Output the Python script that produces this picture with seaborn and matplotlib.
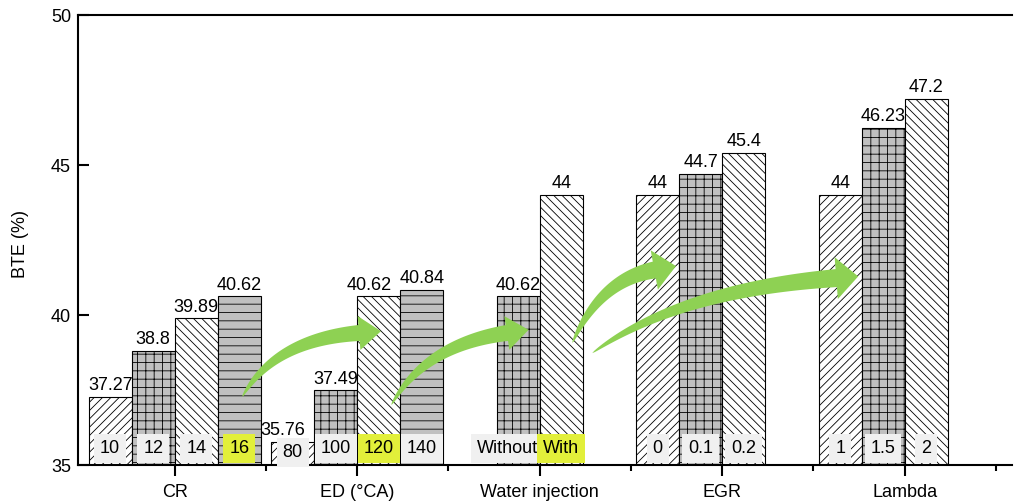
import numpy as np
import pandas as pd
import matplotlib
matplotlib.use("Agg")
import matplotlib.pyplot as plt
from matplotlib.patches import Polygon
from matplotlib.ticker import FixedLocator
import seaborn as sns

groups = ["CR", "ED (°CA)", "Water injection", "EGR", "Lambda"]

cr_vals = [37.27, 38.8, 39.89, 40.62]
cr_tags = ["10", "12", "14", "16"]
ed_vals = [35.76, 37.49, 40.62, 40.84]
ed_tags = ["80", "100", "120", "140"]
wi_vals = [40.62, 44]
wi_tags = ["Without", "With"]
egr_vals = [44, 44.7, 45.4]
egr_tags = ["0", "0.1", "0.2"]
lam_vals = [44, 46.23, 47.2]
lam_tags = ["1", "1.5", "2"]

# slot (0-3) each bar occupies inside its group
cr_slots = ["s0", "s1", "s2", "s3"]
ed_slots = ["s0", "s1", "s2", "s3"]
wi_slots = ["s1", "s2"]
egr_slots = ["s0", "s1", "s2"]
lam_slots = ["s0", "s1", "s2"]

highlighted = [("CR", "16"), ("ED (°CA)", "120"), ("Water injection", "With")]

slot_order = ["s0", "s1", "s2", "s3"]
slot_fill = {"s0": "white", "s1": "#c0c0c0", "s2": "white", "s3": "#c0c0c0"}
slot_hatch = {"s0": "////", "s1": "++", "s2": "\\\\\\\\", "s3": "--"}

rows = []
for g, vals, tags, slots in zip(
        groups,
        [cr_vals, ed_vals, wi_vals, egr_vals, lam_vals],
        [cr_tags, ed_tags, wi_tags, egr_tags, lam_tags],
        [cr_slots, ed_slots, wi_slots, egr_slots, lam_slots]):
    for v, t, s in zip(vals, tags, slots):
        rows.append({"group": g, "bte": v, "tag": t, "slot": s})
df = pd.DataFrame(rows)

sns.set_style("ticks")
plt.rcParams["font.family"] = ["Liberation Sans", "DejaVu Sans"]
plt.rcParams["hatch.linewidth"] = 0.6
plt.rcParams["hatch.color"] = "#333333"
for key in ["text.color", "axes.labelcolor", "xtick.color", "ytick.color",
            "axes.edgecolor"]:
    plt.rcParams[key] = "black"

fig = plt.figure(figsize=(10.14, 5.03), dpi=100)
ax = fig.add_axes([78 / 1014, 1 - 465 / 503, 934 / 1014, 450 / 503])

bar_w = 0.943
sns.barplot(data=df, x="group", y="bte", hue="slot", order=groups,
            hue_order=slot_order, palette=slot_fill, dodge=True, width=bar_w,
            edgecolor="black", linewidth=0.8, errorbar=None, legend=False,
            ax=ax)

ax.set_ylim(35, 50)
ax.set_xlim(-0.53, 4.588)
ax.set_yticks([35, 40, 45, 50])

for cont, slot in zip(ax.containers, slot_order):
    for bar in cont:
        if np.isnan(bar.get_height()):
            continue
        bar.set_hatch(slot_hatch[slot])
        gi = int(round(bar.get_x() + bar.get_width() / 2))
        row = df[(df.group == groups[gi]) & (df.slot == slot)].iloc[0]
        fc = "#e2ef3a" if (row.group, row.tag) in highlighted else "#f0f0f0"
        ty = min(35.55, row.bte - 0.35)
        if row.tag == "Without":
            # too wide for its bar: right-align against the bar edge
            tx, ha = bar.get_x() + bar.get_width() - 0.01, "right"
        else:
            tx, ha = bar.get_x() + bar.get_width() / 2, "center"
        ax.text(tx, ty, row.tag, ha=ha, va="center", fontsize=13, zorder=5,
                bbox=dict(boxstyle="square,pad=0.32", fc=fc, ec="none"))
    anns = ax.bar_label(cont, fmt="%g", padding=2, fontsize=13)
    if slot in ("s0", "s2"):
        # ED labels nudged left so neighbours don't collide
        for bar, ann in zip(cont, anns):
            gi = int(round(bar.get_x() + bar.get_width() / 2))
            if groups[gi] == "ED (°CA)":
                ann.xyann = (-7, 2)

def curved_arrow(ax, tail, ctrl, end, body=16, head_w=36, head_len=22,
                 color="#8ed153"):
    # tapered quadratic-bezier arrow, built in pixel space
    P = ax.transData.transform(np.array([tail, ctrl, end]))
    t = np.linspace(0, 1, 80)[:, None]
    pts = (1 - t) ** 2 * P[0] + 2 * (1 - t) * t * P[1] + t ** 2 * P[2]
    d = 2 * (1 - t) * (P[1] - P[0]) + 2 * t * (P[2] - P[1])
    d /= np.linalg.norm(d, axis=1, keepdims=True)
    n = np.column_stack([-d[:, 1], d[:, 0]])
    w = body / 2 * t[:, 0] ** 0.6
    left = pts + n * w[:, None]
    right = pts - n * w[:, None]
    tip = P[2] + d[-1] * head_len
    hl = P[2] + n[-1] * head_w / 2
    hr = P[2] - n[-1] * head_w / 2
    poly = np.vstack([left, hl, tip, hr, right[::-1]])
    poly = ax.transData.inverted().transform(poly)
    ax.add_patch(Polygon(poly, closed=True, fc=color, ec="none", zorder=6))


curved_arrow(ax, (0.37, 37.27), (0.545, 39.17), (1.01, 39.4), body=16, head_w=34)
curved_arrow(ax, (1.187, 37.0), (1.37, 39.0), (1.82, 39.4), body=16, head_w=34)
curved_arrow(ax, (2.179, 39.07), (2.33, 41.17), (2.628, 41.5), body=17, head_w=40)
curved_arrow(ax, (2.288, 38.73), (2.765, 40.83), (3.625, 41.23), body=18, head_w=42)

ax.set_xlabel("")
ax.set_ylabel("BTE (%)", fontsize=13, va="center")
ax.yaxis.set_label_coords(-0.062, 0.49)

ax.xaxis.set_minor_locator(FixedLocator([0.5, 1.5, 2.5, 3.5, 4.5]))
ax.tick_params(axis="x", which="major", direction="out", length=8, width=1.5,
               labelsize=13, pad=6)
ax.tick_params(axis="x", which="minor", direction="out", length=4, width=1.5)
ax.tick_params(axis="y", which="major", direction="in", length=8, width=1.5,
               labelsize=13, pad=5)

for side in ["left", "bottom", "top"]:
    ax.spines[side].set_linewidth(1.5)
    ax.spines[side].set_visible(True)
ax.spines["right"].set_visible(False)

fig.savefig("out.png", dpi=100)
